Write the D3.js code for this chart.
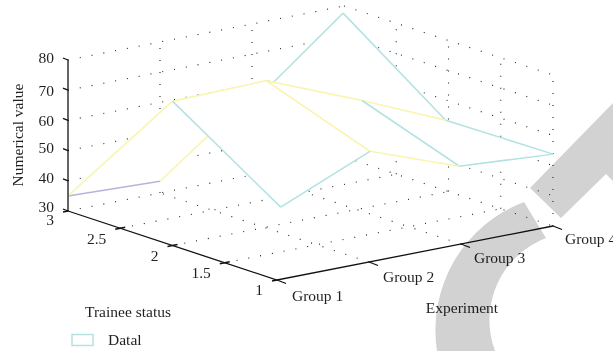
<!DOCTYPE html>
<html><head><meta charset="utf-8">
<script src="https://cdn.jsdelivr.net/npm/d3@7"></script>
<style>html,body{margin:0;padding:0;background:#fff}svg{display:block}text{font-family:"Liberation Serif",serif;font-size:15.5px;fill:#231f20}</style>
</head><body><svg id="c" width="613" height="351"></svg>
<script>
const groups=["Group 1","Group 2","Group 3","Group 4"];
const groupTicks=[1,2,3,4];
const statusTicks=[1,1.5,2,2.5,3];
const statusLabels=["1","1.5","2","2.5","3"];
const valueTicks=[30,40,50,60,70,80];
const statuses=[1,2,3];
// measured vertex positions and values, one row per trainee status
const groupPos1=[1.04,2.01,2.98,4];
const groupPos2=[1,2.016,3.06,3.97];
const groupPos3=[1,2,3,3.99];
const values1=[53.9,66.6,55.9,53.8];
const values2=[77.8,78.5,65.7,53.8];
const values3=[35.0,33.9,53.6,77.7];
const legendLabels=["Datal"];
const cyan="#b2e2e2",yellow="#f9f5b1",purple="#b9b2dd";
const alongGroup1=[cyan,yellow,cyan];
const alongGroup2=[yellow,yellow,yellow];
const alongGroup3=[purple,"none",cyan];
const alongStatus12=[cyan,yellow,cyan,cyan];
const alongStatus23=[yellow,yellow,"none",cyan];

const svg=d3.select("#c");
const gx=d3.scaleLinear().domain([1,4]).range([277,553]);
const gy=d3.scaleLinear().domain([1,4]).range([0,-54]);
const sx=d3.scaleLinear().domain([1,3]).range([0,-209]);
const sy=d3.scaleLinear().domain([1,3]).range([280,211]);
const zy=d3.scaleLinear().domain([30,80]).range([0,-151]);
const P=(g,s,z)=>[gx(g)+sx(s),gy(g)+sy(s)+zy(z)];
const line=d3.line();
const pos=[groupPos1,groupPos2,groupPos3],val=[values1,values2,values3];
const V=(si,gi)=>P(pos[si][gi],statuses[si],val[si][gi]);

// dotted grid
const grid=svg.append("g").attr("fill","none").attr("stroke","#222").attr("stroke-width",1.1).attr("stroke-dasharray","1 11");
const dot=(a,b)=>grid.append("path").attr("d",line([a,b]));
valueTicks.forEach(z=>{dot(P(1,3,z),P(4,3,z));dot(P(4,3,z),P(4,1,z));});
[2,3].forEach(g=>{dot(P(g,3,30),P(g,3,80));dot(P(g,1,30),P(g,3,30));});
[1,1.5,2,2.5].forEach(s=>{dot(P(4,s,30),P(4,s,80));});
[1.5,2,2.5].forEach(s=>{dot(P(1,s,30),P(4,s,30));});

// surface, painted back to front
const surf=svg.append("g");
const hSets=[alongGroup1,alongGroup2,alongGroup3];
const vSets=[alongStatus12,alongStatus23];
for(let si=1;si>=0;si--)for(let gi=2;gi>=0;gi--){
  surf.append("path").attr("d",line([V(si,gi),V(si,gi+1),V(si+1,gi+1),V(si+1,gi)])+"Z").attr("fill","#fff");
  const edge=(a,b,c)=>surf.append("path").attr("d",line([a,b])).attr("fill","none").attr("stroke",c).attr("stroke-width",1.5);
  edge(V(si+1,gi),V(si+1,gi+1),hSets[si+1][gi]);
  edge(V(si+1,gi+1),V(si,gi+1),vSets[si][gi+1]);
  edge(V(si+1,gi),V(si,gi),vSets[si][gi]);
  edge(V(si,gi),V(si,gi+1),hSets[si][gi]);
}

// axes
const ax=svg.append("g").attr("fill","none").attr("stroke","#111").attr("stroke-width",1.3);
ax.append("path").attr("d",line([P(1,3,30),P(1,3,80)]));
ax.append("path").attr("d",line([P(1,3,30),P(1,1,30),P(4,1,30)]));
const T=svg.append("g");
const valueNudge=[-4,-3,-3,0,0,-2];
valueTicks.forEach((z,i)=>{const p=P(1,3,z);
  ax.append("path").attr("d",line([p,[p[0]-5,p[1]-2]]));
  T.append("text").attr("x",p[0]-14).attr("y",p[1]+valueNudge[i]).attr("dy","0.35em").attr("text-anchor","end").text(z);});
statusTicks.forEach((s,i)=>{const p=P(1,s,30);
  ax.append("path").attr("d",line([[p[0]-5,p[1]+1],s===3?p:[p[0]+(s===1?0:5),p[1]-(s===1?0:1)]]));
  T.append("text").attr("x",p[0]-14).attr("y",p[1]+(s===3?9:10)).attr("dy","0.35em").attr("text-anchor","end").text(statusLabels[i]);});
groupTicks.forEach((g,i)=>{const p=P(g,1,30);
  ax.append("path").attr("d",line([p,[p[0]+9,p[1]+3.5]]));
  T.append("text").attr("x",p[0]+15-i).attr("y",p[1]+16-i).attr("dy","0.35em").text(groups[i]);});
T.append("text").attr("transform","translate(18,135) rotate(-90)").attr("text-anchor","middle").attr("dy","0.35em").text("Numerical value");
T.append("text").attr("x",128).attr("y",312).attr("dy","0.35em").attr("text-anchor","middle").text("Trainee status");
T.append("text").attr("x",462).attr("y",308).attr("dy","0.35em").attr("text-anchor","middle").text("Experiment");
legendLabels.forEach(l=>{
  svg.append("rect").attr("x",72).attr("y",334.5).attr("width",21).attr("height",11).attr("fill","#fff").attr("stroke",cyan).attr("stroke-width",1.5);
  T.append("text").attr("x",108).attr("y",340).attr("dy","0.35em").text(l);
});

// watermark, blended over the chart
const wm=svg.append("g").attr("fill","#d2d2d2").style("mix-blend-mode","multiply");
wm.append("path").attr("d","M524,202 L546,238 A88,88 0 0 0 495,351 L437,351 A137,137 0 0 1 524,202Z");
wm.append("path").attr("d","M530,188 L613,103 L613,181 L606,174 L561,218Z");
</script></body></html>
